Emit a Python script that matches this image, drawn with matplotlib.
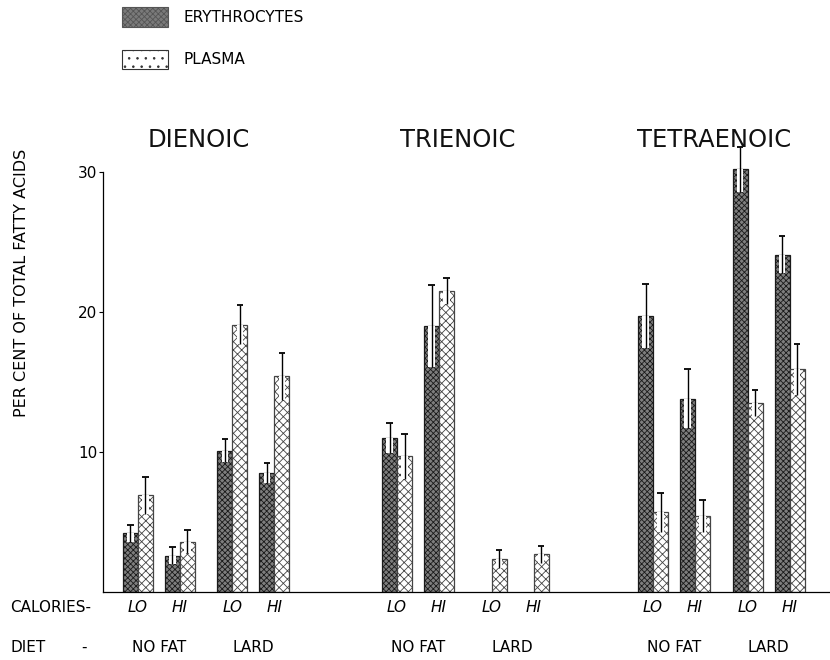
import numpy as np
import matplotlib.pyplot as plt
from matplotlib.patches import Patch
from matplotlib.transforms import blended_transform_factory

# acid groups, each with 4 diet/calorie conditions: NO FAT LO, NO FAT HI, LARD LO, LARD HI
groups = ['DIENOIC', 'TRIENOIC', 'TETRAENOIC']
calories = ['LO', 'HI', 'LO', 'HI']
diets = ['NO FAT', 'LARD']

ery = [[4.2, 2.6, 10.1, 8.5],
       [11.0, 19.0, 0.0, 0.0],
       [19.7, 13.8, 30.2, 24.1]]
ery_err = [[0.6, 0.6, 0.8, 0.7],
           [1.1, 2.9, 0.0, 0.0],
           [2.3, 2.1, 1.6, 1.3]]
plasma = [[6.9, 3.6, 19.1, 15.4],
          [9.7, 21.5, 2.35, 2.7],
          [5.7, 5.45, 13.5, 15.9]]
plasma_err = [[1.3, 0.8, 1.4, 1.7],
              [1.6, 0.9, 0.65, 0.6],
              [1.4, 1.15, 0.9, 1.8]]

plt.rcParams['font.family'] = 'DejaVu Sans'
plt.rcParams['hatch.linewidth'] = 0.6

# layout in units of one bar width
group_start = np.array([2.33, 19.6, 36.67])
cond_offset = np.array([0.0, 2.8, 6.3, 9.1])
bw = 1.0

fig = plt.figure(figsize=(8.3, 6.6), dpi=100)
ax = fig.add_axes([103 / 830, 68 / 660, 727 / 830, 448 / 660])

ery_style = dict(facecolor='#7e7e7e', edgecolor='#1a1a1a', hatch='xxxxxx', linewidth=0.9)
pl_style = dict(facecolor='white', edgecolor='#444444', hatch='xxxx', linewidth=0.9)


def draw_bars(xs, vals, errs, style):
    xs = np.asarray(xs)
    vals = np.asarray(vals)
    errs = np.asarray(errs)
    keep = vals > 0
    xs, vals, errs = xs[keep], vals[keep], errs[keep]
    ax.bar(xs, vals, width=bw, **style)
    # white notch showing the lower half of the error bar
    ax.bar(xs, errs, bottom=vals - errs, width=bw * 0.45, color='white', linewidth=0)
    ax.vlines(xs, vals - errs, vals + errs, color='black', linewidth=1.0)
    ax.hlines(vals + errs, xs - 0.22, xs + 0.22, color='black', linewidth=1.3)


for g in range(len(groups)):
    centers = group_start[g] + cond_offset
    draw_bars(centers - bw / 2, ery[g], ery_err[g], ery_style)
    draw_bars(centers + bw / 2, plasma[g], plasma_err[g], pl_style)
    ax.text(centers.mean() - 0.5, 31.8, groups[g], ha='center', va='baseline',
            fontsize=17.5, color='#111')

ax.set_xlim(0, 727 / 15)
ax.set_ylim(0, 32)
ax.set_yticks([10, 20, 30])
ax.set_yticklabels(['10', '20', '30'], fontsize=11)
ax.tick_params(axis='y', length=3, width=0.8, pad=1)
ax.set_xticks([])
ax.spines['top'].set_visible(False)
ax.spines['right'].set_visible(False)
ax.spines['left'].set_bounds(0, 30)
ax.spines['left'].set_linewidth(0.9)
ax.spines['bottom'].set_linewidth(0.9)

fig.text(22 / 830, 1 - 283 / 660, 'PER CENT OF TOTAL FATTY ACIDS', rotation=90,
         ha='center', va='center', fontsize=11.5)

# category rows below the axis
tr = blended_transform_factory(ax.transData, ax.transAxes)
for g in range(len(groups)):
    centers = group_start[g] + cond_offset
    for c in range(len(calories)):
        ax.text(centers[c], -15 / 448, calories[c], transform=tr, ha='center', va='center',
                fontsize=11, style='italic')
    for d in range(len(diets)):
        ax.text(centers[2 * d:2 * d + 2].mean(), -55 / 448, diets[d], transform=tr,
                ha='center', va='center', fontsize=11)

fig.text(10 / 830, 1 - 607 / 660, 'CALORIES-', ha='left', va='center', fontsize=11)
fig.text(10 / 830, 1 - 647 / 660, 'DIET', ha='left', va='center', fontsize=11)
fig.text(84 / 830, 1 - 647 / 660, '-', ha='center', va='center', fontsize=11)

handles = [Patch(facecolor='#7a7a7a', edgecolor='#555', hatch='xxxxxx', linewidth=0.8),
           Patch(facecolor='white', edgecolor='#333', hatch='..', linewidth=0.8)]
fig.legend(handles, ['ERYTHROCYTES', 'PLASMA'], loc='upper left',
           bbox_to_anchor=(122 / 830, 1 - 7 / 660), frameon=False, fontsize=11,
           handlelength=3.0, handleheight=1.6, labelspacing=1.5, handletextpad=1.0,
           borderpad=0, borderaxespad=0)

fig.savefig('out.png', dpi=100)
